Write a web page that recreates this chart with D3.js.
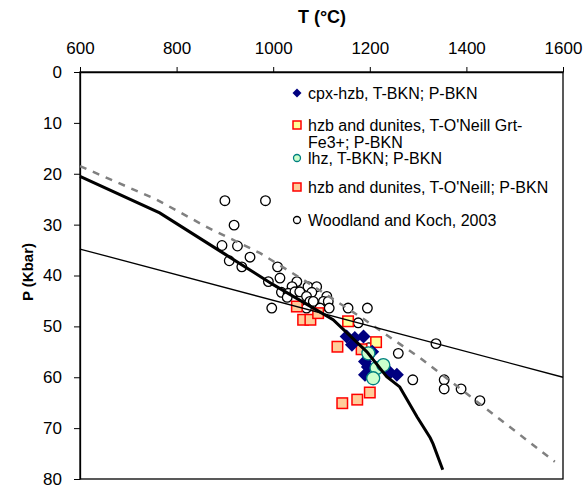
<!DOCTYPE html>
<html>
<head>
<meta charset="utf-8">
<script src="https://cdn.jsdelivr.net/npm/d3@7"></script>
<style>
  body { margin: 0; background: #fff; }
  text { font-family: Arial, "Liberation Sans", sans-serif; }
</style>
</head>
<body>
<div id="chart"></div>
<script>
var width = 587, height = 488;

// T in °C, P in Kbar
var xTicks = [600, 800, 1000, 1200, 1400, 1600];
var yTicks = [0, 10, 20, 30, 40, 50, 60, 70, 80];

var woodlandT = [900, 984, 919, 894, 926, 952, 909, 935, 1009, 1014, 990, 1049, 1039, 1072, 1090,
  1017, 1031, 1045, 1055, 1080, 1111, 1029, 1069, 1076, 1083, 1104, 1114, 1069, 1097, 1116,
  997, 1155, 1195, 1176, 1198, 1259, 1337, 1289, 1354, 1354, 1389, 1428];
var woodlandP = [25.3, 25.3, 30.1, 34.1, 34.2, 36.4, 37.1, 38.3, 38.3, 40.5, 41.2, 41.2, 42.2, 42.2, 42.2,
  43.3, 43.5, 43.2, 43.2, 43.3, 44.1, 44.3, 44.1, 45.1, 45.1, 45.1, 45.1, 46.4, 46.4, 46.4,
  46.4, 46.4, 46.4, 49.3, 54.2, 55.3, 53.4, 60.5, 60.5, 62.3, 62.3, 64.6];

var oneillT = [1049, 1062, 1077, 1093, 1133, 1183, 1200, 1174, 1143];
var oneillP = [46.1, 48.7, 48.7, 47.4, 54.0, 54.5, 63.0, 64.4, 65.1];

var grtT = [1155, 1213];
var grtP = [49.0, 53.1];

var cpxT = [1152, 1169, 1187, 1163, 1205, 1190, 1196, 1190, 1242, 1256];
var cpxP = [52.0, 52.3, 52.0, 53.6, 55.0, 56.9, 58.0, 59.5, 59.1, 59.5];

var lhzT = [1197, 1214, 1228, 1207];
var lhzP = [55.3, 58.2, 57.6, 60.2];

var thickT = [600, 765, 900, 1000, 1124, 1194, 1235, 1262, 1298, 1325, 1331, 1351];
var thickP = [20.5, 27.7, 35.8, 41.8, 48.7, 55.0, 59.9, 61.9, 67.8, 71.9, 73.1, 78.2];

var dashT = [600, 759, 863, 973, 1070, 1180, 1304, 1407, 1583];
var dashP = [18.5, 25.1, 30.5, 35.6, 41.3, 48.1, 56.2, 63.7, 76.6];

var thinT = [600, 1600];
var thinP = [34.8, 60.0];

var legendLabels = [
  ["cpx-hzb, T-BKN; P-BKN"],
  ["hzb and dunites, T-O'Neill Grt-", "Fe3+; P-BKN"],
  ["lhz, T-BKN; P-BKN"],
  ["hzb and dunites, T-O'Neill; P-BKN"],
  ["Woodland and Koch, 2003"]
];

function zip(a, b) { return a.map((v, i) => [v, b[i]]); }

var svg = d3.select("#chart").append("svg")
  .attr("width", width)
  .attr("height", height);

var x = d3.scaleLinear().domain([600, 1600]).range([80, 563]);
var y = d3.scaleLinear().domain([0, 80]).range([72, 479]);

// frame
svg.append("rect")
  .attr("x", x(600)).attr("y", y(0))
  .attr("width", x(1600) - x(600)).attr("height", y(80) - y(0))
  .attr("fill", "none").attr("stroke", "#000").attr("stroke-width", 1.3);

var xAxis = svg.append("g")
  .attr("transform", `translate(0,${y(0)})`)
  .call(d3.axisTop(x).tickValues(xTicks).tickFormat(d3.format("d"))
    .tickSize(5).tickSizeOuter(0).tickPadding(13));
var yAxis = svg.append("g")
  .attr("transform", `translate(${x(600)},0)`)
  .call(d3.axisLeft(y).tickValues(yTicks).tickFormat(d3.format("d"))
    .tickSize(6).tickSizeOuter(0).tickPadding(12));

[xAxis, yAxis].forEach(g => {
  g.selectAll("text").style("font-size", "17px").attr("fill", "#000")
    .style("font-family", "Arial, 'Liberation Sans', sans-serif");
  g.selectAll("line").attr("stroke", "#000");
  g.select(".domain").attr("stroke", "#000").attr("stroke-width", 1.3);
});

svg.append("text")
  .attr("x", 322).attr("y", 23)
  .attr("text-anchor", "middle")
  .style("font-size", "18px").style("font-weight", "bold")
  .text("T (°C)");

svg.append("text")
  .attr("transform", "translate(33,272) rotate(-90)")
  .attr("text-anchor", "middle")
  .style("font-size", "15px").style("font-weight", "bold")
  .text("P (Kbar)");

// marker helpers
function drawCircles(data, r, fill, stroke, sw) {
  svg.append("g").selectAll("circle").data(data).enter().append("circle")
    .attr("cx", d => x(d[0])).attr("cy", d => y(d[1]))
    .attr("r", r).attr("fill", fill).attr("stroke", stroke).attr("stroke-width", sw);
}
function drawSquares(data, s, fill) {
  svg.append("g").selectAll("rect").data(data).enter().append("rect")
    .attr("x", d => x(d[0]) - s / 2).attr("y", d => y(d[1]) - s / 2)
    .attr("width", s).attr("height", s)
    .attr("fill", fill).attr("stroke", "#ff0000").attr("stroke-width", 1.5);
}
function diamondPath(cx, cy, h) {
  return `M${cx},${cy - h}L${cx + h},${cy}L${cx},${cy + h}L${cx - h},${cy}Z`;
}

drawCircles(zip(woodlandT, woodlandP), 4.8, "#fff", "#000", 1.3);
drawSquares(zip(oneillT, oneillP), 10.5, "#ffcc99");
drawSquares(zip(grtT, grtP), 10.5, "#ffff99");

svg.append("g").selectAll("path").data(zip(cpxT, cpxP)).enter().append("path")
  .attr("d", d => diamondPath(x(d[0]), y(d[1]), 7))
  .attr("fill", "#000080");

drawCircles(zip(lhzT, lhzP), 6.5, "#ccffcc", "#008080", 1.3);

// lines
var line = d3.line().x(d => x(d[0])).y(d => y(d[1]));

svg.append("path").datum(zip(dashT, dashP))
  .attr("d", line).attr("fill", "none")
  .attr("stroke", "#808080").attr("stroke-width", 2.5).attr("stroke-dasharray", "7,7");

svg.append("path").datum(zip(thinT, thinP))
  .attr("d", line).attr("fill", "none")
  .attr("stroke", "#000").attr("stroke-width", 1.3);

svg.append("path").datum(zip(thickT, thickP))
  .attr("d", line).attr("fill", "none")
  .attr("stroke", "#000").attr("stroke-width", 3);

// legend
var legendY = [93, 125, 158, 187, 220];
var leg = svg.append("g");
legendLabels.forEach((lines, i) => {
  var ly = legendY[i];
  if (i === 0) {
    leg.append("path").attr("d", diamondPath(297, ly, 4.5)).attr("fill", "#000080");
  } else if (i === 1 || i === 3) {
    leg.append("rect").attr("x", 293).attr("y", ly - 4).attr("width", 8).attr("height", 8)
      .attr("fill", i === 1 ? "#ffff99" : "#ffcc99").attr("stroke", "#ff0000").attr("stroke-width", 1.5);
  } else if (i === 2) {
    leg.append("circle").attr("cx", 297).attr("cy", ly).attr("r", 3.5)
      .attr("fill", "#ccffcc").attr("stroke", "#008080").attr("stroke-width", 1.3);
  } else {
    leg.append("circle").attr("cx", 297).attr("cy", ly).attr("r", 3.5)
      .attr("fill", "#fff").attr("stroke", "#000").attr("stroke-width", 1.3);
  }
  lines.forEach((t, j) => {
    leg.append("text")
      .attr("x", 308).attr("y", ly + 6 + j * 17)
      .style("font-size", "16px")
      .text(t);
  });
});
</script>
</body>
</html>
